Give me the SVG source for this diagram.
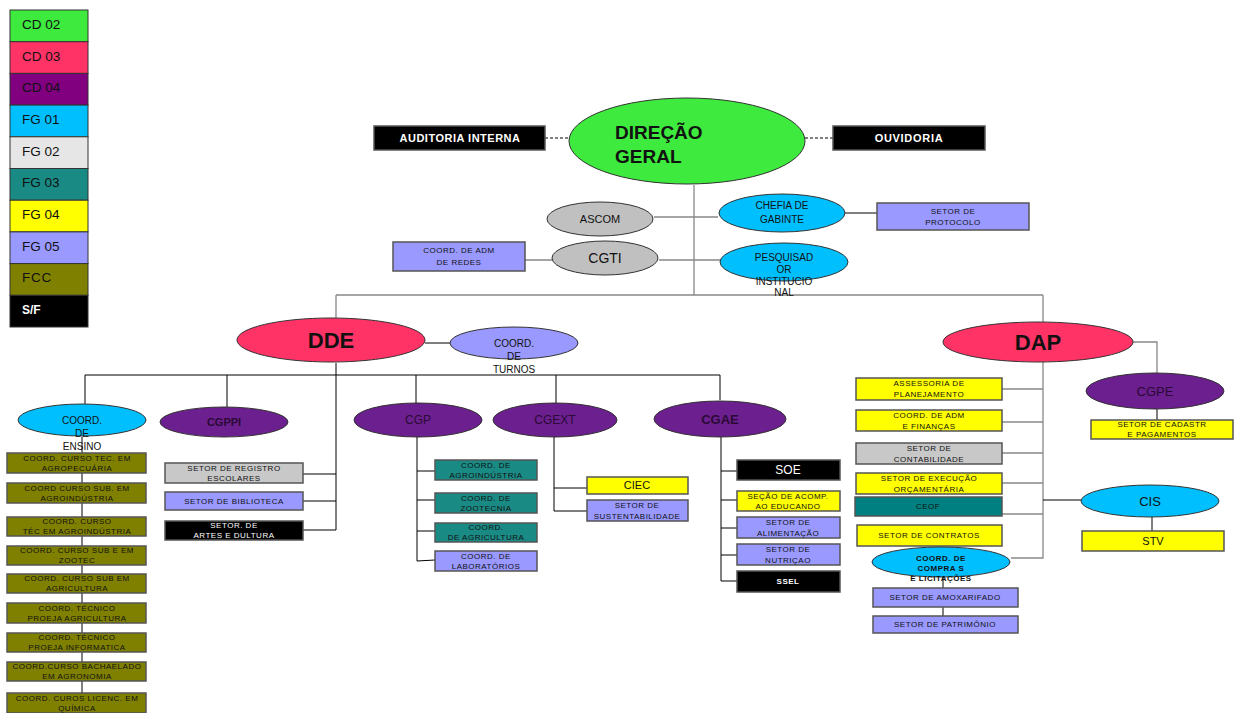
<svg xmlns="http://www.w3.org/2000/svg" width="1235" height="713" viewBox="0 0 1235 713">
<style>
text{font-family:"Liberation Sans",Arial,sans-serif;fill:#111;text-anchor:middle}
.lgt{font-size:13.5px;text-anchor:start}
.s{font-size:8px;letter-spacing:0.5px}
.m{font-size:10px}
.b{font-weight:bold}
.w{fill:#fff}
.bx{stroke:#555;stroke-width:1.5}
.el{stroke:#333;stroke-width:1}
.c{fill:none;stroke:#000;stroke-width:1}
.g{fill:none;stroke:#888;stroke-width:1.3}
.d{fill:none;stroke:#000;stroke-width:1.2;stroke-dasharray:3,2}
.cd02{fill:#3dea3d}.cd03{fill:#ff3366}.cd04{fill:#800080}.cd4e{fill:#6c1f8e}
.fg01{fill:#00bfff}.fg02{fill:#e6e6e6}.fg2b{fill:#c8c8c8}.fg2e{fill:#c0c0c0}
.fg03{fill:#1a8a84}.ceof{fill:#008080}.fg04{fill:#ffff00}.fg05{fill:#9999ff}
.fcc{fill:#808000}.sf{fill:#000}
</style>
<rect width="1235" height="713" fill="#fff"/>
<g id="legend">
<rect class="cd02 el" x="10" y="10" width="78" height="31.7"/><text class="lgt" x="22" y="29">CD 02</text>
<rect class="cd03 el" x="10" y="41.7" width="78" height="31.7"/><text class="lgt" x="22" y="61">CD 03</text>
<rect class="cd04 el" x="10" y="73.4" width="78" height="31.7"/><text class="lgt" x="22" y="92">CD 04</text>
<rect class="fg01 el" x="10" y="105.1" width="78" height="31.7"/><text class="lgt" x="22" y="124">FG 01</text>
<rect class="fg02 el" x="10" y="136.8" width="78" height="31.7"/><text class="lgt" x="22" y="156">FG 02</text>
<rect class="fg03 el" x="10" y="168.5" width="78" height="31.7"/><text class="lgt" x="22" y="187">FG 03</text>
<rect class="fg04 el" x="10" y="200.2" width="78" height="31.7"/><text class="lgt" x="22" y="219">FG 04</text>
<rect class="fg05 el" x="10" y="231.9" width="78" height="31.7"/><text class="lgt" x="22" y="251">FG 05</text>
<rect class="fcc el" x="10" y="263.6" width="78" height="31.7"/><text class="lgt" x="22" y="282" style="letter-spacing:0.8px">FCC</text>
<rect class="sf el" x="10" y="295.3" width="78" height="31.7"/><text class="lgt b w" x="22" y="314" style="font-size:12px">S/F</text>
</g>
<g id="connectors">
<path class="d" d="M545,138H569M805,138H833"/>
<path class="g" d="M694,185V295M654,217H718M525,260H552M659,260H722M336,295H1043M336,295V318M1043,295V322"/>
<path class="c" d="M845,213H877M425,343H450"/>
<path class="c" d="M336,363V530M85,375H720M85,375V404M227,375V407M416,375V403M556,375V403M720,375V400"/>
<path class="c" d="M303,474H336M303,501H336M303,530H336"/>
<path class="c" d="M82,437V693"/>
<path class="c" d="M417,437V561M417,471H435M417,500H435M417,531H435M417,561L435,560"/>
<path class="c" d="M554,437V511H587M554,488H587"/>
<path class="c" d="M721,437V581H737M721,471H737M721,500H737M721,528H737M721,555H737"/>
<path class="g" d="M1133,342H1157V373M1043,362V558H1011M1002,389H1043M1002,422H1043M1002,453H1043M1002,483H1043M1002,514H1043"/>
<path class="c" d="M1157,409V420M1043,500H1081M1152,517V531M943,576V616"/>
</g>
<g id="direcao-geral"><ellipse class="cd02 el" cx="687" cy="141" rx="118" ry="43"/><text class="b" x="615" y="139" style="font-size:19px;text-anchor:start">DIREÇÃO</text><text class="b" x="615" y="163" style="font-size:19px;text-anchor:start">GERAL</text></g>
<g id="auditoria"><rect class="sf bx" x="374" y="126" width="171" height="24"/><text class="b w" x="460" y="142" style="font-size:11px;letter-spacing:0.5px">AUDITORIA INTERNA</text></g>
<g id="ouvidoria"><rect class="sf bx" x="833" y="126" width="152" height="24"/><text class="b w" x="909" y="142" style="font-size:11px;letter-spacing:0.7px">OUVIDORIA</text></g>
<g id="ascom"><ellipse class="fg2e el" cx="600" cy="219" rx="53" ry="17"/><text x="600" y="223" style="font-size:11px">ASCOM</text></g>
<g id="chefia"><ellipse class="fg01 el" cx="782" cy="213" rx="63" ry="19"/><text class="m" x="782" y="209">CHEFIA DE</text><text class="m" x="782" y="223">GABINTE</text></g>
<g id="protocolo"><rect class="fg05 bx" x="877" y="203" width="152" height="27"/><text class="s" x="953" y="214">SETOR DE</text><text class="s" x="953" y="225">PROTOCOLO</text></g>
<g id="cgti"><ellipse class="fg2e el" cx="605" cy="258" rx="53" ry="17"/><text x="605" y="263" style="font-size:14px">CGTI</text></g>
<g id="redes"><rect class="fg05 bx" x="393" y="242" width="132" height="29"/><text class="s" x="459" y="253">COORD. DE ADM</text><text class="s" x="459" y="265">DE REDES</text></g>
<g id="pesquisador"><ellipse class="fg01 el" cx="784" cy="262" rx="64" ry="19"/><text class="m" x="784" y="261">PESQUISAD</text><text class="m" x="784" y="273">OR</text><text class="m" x="784" y="285">INSTITUCIO</text><text class="m" x="784" y="296">NAL</text></g>
<g id="dde"><ellipse class="cd03 el" cx="331" cy="340" rx="94" ry="22"/><text class="b" x="331" y="348" style="font-size:22px">DDE</text></g>
<g id="turnos"><ellipse class="fg05 el" cx="514" cy="343" rx="64" ry="16"/><text class="m" x="514" y="347">COORD.</text><text class="m" x="514" y="360">DE</text><text class="m" x="514" y="373">TURNOS</text></g>
<g id="ensino"><ellipse class="fg01 el" cx="82" cy="420" rx="64" ry="16"/><text class="m" x="82" y="424">COORD.</text><text class="m" x="82" y="437">DE</text><text class="m" x="82" y="450">ENSINO</text></g>
<g id="cursos">
<rect class="fcc bx" x="7" y="453" width="139" height="20"/><text class="s" x="77" y="461">COORD. CURSO TEC. EM</text><text class="s" x="77" y="471">AGROPECUÁRIA</text>
<rect class="fcc bx" x="7" y="483" width="139" height="20"/><text class="s" x="77" y="491">COORD CURSO SUB. EM</text><text class="s" x="77" y="501">AGROINDÚSTRIA</text>
<rect class="fcc bx" x="7" y="517" width="139" height="19"/><text class="s" x="77" y="524">COORD. CURSO</text><text class="s" x="77" y="534">TÉC EM AGROINDÚSTRIA</text>
<rect class="fcc bx" x="7" y="546" width="139" height="19"/><text class="s" x="77" y="553">COORD. CURSO SUB E EM</text><text class="s" x="77" y="563">ZOOTEC</text>
<rect class="fcc bx" x="7" y="574" width="139" height="19"/><text class="s" x="77" y="581">COORD. CURSO SUB EM</text><text class="s" x="77" y="591">AGRICULTURA</text>
<rect class="fcc bx" x="7" y="603" width="139" height="20"/><text class="s" x="77" y="611">COORD. TÉCNICO</text><text class="s" x="77" y="621">PROEJA AGRICULTURA</text>
<rect class="fcc bx" x="7" y="633" width="139" height="19"/><text class="s" x="77" y="640">COORD. TÉCNICO</text><text class="s" x="77" y="650">PROEJA INFORMATICA</text>
<rect class="fcc bx" x="7" y="662" width="139" height="19"/><text class="s" x="77" y="669">COORD.CURSO BACHAELADO</text><text class="s" x="77" y="679">EM AGRONOMIA</text>
<rect class="fcc bx" x="7" y="693" width="139" height="20"/><text class="s" x="77" y="701">COORD. CUROS LICENC. EM</text><text class="s" x="77" y="711">QUÍMICA</text>
</g>
<g id="cgppi"><ellipse class="cd4e el" cx="224" cy="422" rx="64" ry="15"/><text class="b" x="224" y="426" style="font-size:11px;fill:#2a0a35">CGPPI</text></g>
<g id="registro"><rect class="fg2b bx" x="165" y="463" width="138" height="20"/><text class="s" x="234" y="471">SETOR DE REGISTRO</text><text class="s" x="234" y="481">ESCOLARES</text></g>
<g id="biblioteca"><rect class="fg05 bx" x="165" y="492" width="138" height="18"/><text class="s" x="234" y="504">SETOR DE BIBLIOTECA</text></g>
<g id="artes"><rect class="sf bx" x="165" y="521" width="138" height="19"/><text class="s w" x="234" y="528">SETOR. DE</text><text class="s w" x="234" y="538">ARTES E DULTURA</text></g>
<g id="cgp"><ellipse class="cd4e el" cx="418" cy="420" rx="64" ry="17"/><text x="418" y="424" style="font-size:12px;fill:#2a0a35">CGP</text></g>
<g id="agroindustria"><rect class="fg03 bx" x="435" y="460" width="102" height="20"/><text class="s" x="486" y="468">COORD. DE</text><text class="s" x="486" y="478">AGROINDÚSTRIA</text></g>
<g id="zootecnia"><rect class="fg03 bx" x="435" y="493" width="102" height="20"/><text class="s" x="486" y="501">COORD. DE</text><text class="s" x="486" y="511">ZOOTECNIA</text></g>
<g id="agricultura"><rect class="fg03 bx" x="435" y="523" width="102" height="19"/><text class="s" x="486" y="530">COORD.</text><text class="s" x="486" y="540">DE AGRICULTURA</text></g>
<g id="laboratorios"><rect class="fg05 bx" x="435" y="551" width="102" height="20"/><text class="s" x="486" y="559">COORD. DE</text><text class="s" x="486" y="569">LABORATÓRIOS</text></g>
<g id="cgext"><ellipse class="cd4e el" cx="555" cy="420" rx="62" ry="17"/><text x="555" y="424" style="font-size:12px;fill:#2a0a35">CGEXT</text></g>
<g id="ciec"><rect class="fg04 bx" x="587" y="477" width="101" height="17"/><text x="637" y="489" style="font-size:11px">CIEC</text></g>
<g id="sustentabilidade"><rect class="fg05 bx" x="587" y="500" width="101" height="21"/><text class="s" x="637" y="508">SETOR DE</text><text class="s" x="637" y="519">SUSTENTABILIDADE</text></g>
<g id="cgae"><ellipse class="cd4e el" cx="720" cy="419" rx="66" ry="18"/><text class="b" x="720" y="424" style="font-size:13px;fill:#2a0a35">CGAE</text></g>
<g id="soe"><rect class="sf bx" x="737" y="460" width="103" height="20"/><text class="w" x="788" y="474" style="font-size:12px">SOE</text></g>
<g id="educando"><rect class="fg04 bx" x="737" y="491" width="103" height="20"/><text class="s" x="788" y="499">SEÇÃO DE ACOMP.</text><text class="s" x="788" y="509">AO EDUCANDO</text></g>
<g id="alimentacao"><rect class="fg05 bx" x="737" y="517" width="103" height="21"/><text class="s" x="788" y="525">SETOR DE</text><text class="s" x="788" y="536">ALIMENTAÇÃO</text></g>
<g id="nutricao"><rect class="fg05 bx" x="737" y="544" width="103" height="21"/><text class="s" x="788" y="552">SETOR DE</text><text class="s" x="788" y="563">NUTRIÇAO</text></g>
<g id="ssel"><rect class="sf bx" x="737" y="571" width="103" height="21"/><text class="s w b" x="788" y="584">SSEL</text></g>
<g id="dap"><ellipse class="cd03 el" cx="1038" cy="342" rx="95" ry="20"/><text class="b" x="1038" y="350" style="font-size:22px">DAP</text></g>
<g id="cgpe"><ellipse class="cd4e el" cx="1155" cy="391" rx="69" ry="18"/><text x="1155" y="396" style="font-size:13px;fill:#2a0a35">CGPE</text></g>
<g id="cadastro"><rect class="fg04 bx" x="1091" y="420" width="142" height="19"/><text class="s" x="1162" y="427">SETOR DE CADASTR</text><text class="s" x="1162" y="437">E PAGAMENTOS</text></g>
<g id="assessoria"><rect class="fg04 bx" x="856" y="378" width="146" height="22"/><text class="s" x="929" y="386">ASSESSORIA DE</text><text class="s" x="929" y="397">PLANEJAMENTO</text></g>
<g id="financas"><rect class="fg04 bx" x="856" y="410" width="146" height="21"/><text class="s" x="929" y="418">COORD. DE ADM</text><text class="s" x="929" y="429">E FINANÇAS</text></g>
<g id="contabilidade"><rect class="fg2b bx" x="856" y="443" width="146" height="21"/><text class="s" x="929" y="451">SETOR DE</text><text class="s" x="929" y="462">CONTABILIDADE</text></g>
<g id="execucao"><rect class="fg04 bx" x="856" y="473" width="146" height="21"/><text class="s" x="929" y="481">SETOR DE  EXECUÇÃO</text><text class="s" x="929" y="492">ORÇAMENTÁRIA</text></g>
<g id="ceof"><rect class="ceof bx" x="855" y="497" width="147" height="19"/><text class="s" x="928" y="509">CEOF</text></g>
<g id="cis"><ellipse class="fg01 el" cx="1150" cy="501" rx="69" ry="16"/><text x="1150" y="506" style="font-size:13px">CIS</text></g>
<g id="stv"><rect class="fg04 bx" x="1082" y="531" width="142" height="20"/><text x="1153" y="545" style="font-size:11px">STV</text></g>
<g id="contratos"><rect class="fg04 bx" x="857" y="525" width="145" height="21"/><text class="s" x="929" y="538">SETOR  DE CONTRATOS</text></g>
<g id="compras"><ellipse class="fg01 el" cx="941" cy="562" rx="69" ry="15"/><text class="s b" x="941" y="561">COORD. DE</text><text class="s b" x="941" y="571">COMPRA S</text><text class="s b" x="941" y="581">E LICITAÇÕES</text></g>
<g id="almoxarifado"><rect class="fg05 bx" x="873" y="588" width="145" height="19"/><text class="s" x="945" y="600">SETOR DE  AMOXARIFADO</text></g>
<g id="patrimonio"><rect class="fg05 bx" x="873" y="616" width="145" height="17"/><text class="s" x="945" y="627">SETOR DE  PATRIMÔNIO</text></g>
</svg>
